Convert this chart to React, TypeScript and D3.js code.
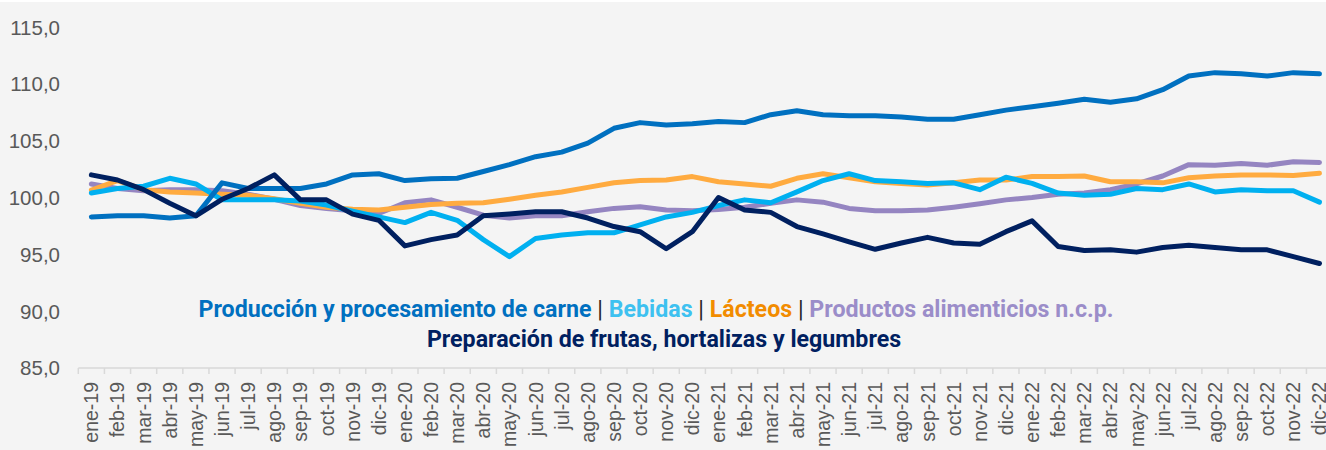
import { useEffect, useRef } from 'react';
import * as d3 from 'd3';

const months = ['ene', 'feb', 'mar', 'abr', 'may', 'jun', 'jul', 'ago', 'sep', 'oct', 'nov', 'dic'];
const years = ['19', '20', '21', '22'];
const labels = years.flatMap(y => months.map(m => `${m}-${y}`));

const yTicks = [85, 90, 95, 100, 105, 110, 115];

// Producción y procesamiento de carne
const carne = [
  98.3, 98.4, 98.4, 98.2, 98.4, 101.3, 100.8, 100.8, 100.8, 101.2, 102.0, 102.1,
  101.5, 101.65, 101.7, 102.3, 102.9, 103.6, 104.0, 104.8, 106.1, 106.6, 106.4, 106.5,
  106.7, 106.6, 107.3, 107.65, 107.3, 107.2, 107.2, 107.1, 106.9, 106.9, 107.3, 107.7,
  108.0, 108.3, 108.65, 108.4, 108.7, 109.5, 110.7, 111.0, 110.9, 110.7, 111.0, 110.9,
];

// Bebidas
const bebidas = [
  100.4, 100.8, 101.0, 101.7, 101.2, 99.8, 99.8, 99.8, 99.7, 99.35, 98.8, 98.3,
  97.8, 98.7, 98.0, 96.3, 94.8, 96.4, 96.7, 96.9, 96.9, 97.6, 98.3, 98.7,
  99.3, 99.8, 99.55, 100.5, 101.5, 102.1, 101.5, 101.4, 101.25, 101.3, 100.7, 101.8,
  101.25, 100.4, 100.2, 100.3, 100.8, 100.7, 101.2, 100.5, 100.7, 100.6, 100.6, 99.6,
];

// Lácteos
const lacteos = [
  100.67, 101.5, 100.7, 100.5, 100.4, 100.3, 100.2, 99.9, 99.5, 99.15, 98.97, 98.9,
  99.15, 99.4, 99.5, 99.55, 99.85, 100.2, 100.5, 100.9, 101.3, 101.5, 101.55, 101.85,
  101.4, 101.2, 101.0, 101.7, 102.1, 101.75, 101.4, 101.25, 101.1, 101.3, 101.55, 101.55,
  101.85, 101.85, 101.9, 101.4, 101.4, 101.3, 101.75, 101.9, 102.0, 102.0, 101.95, 102.15,
];

// Productos alimenticios n.c.p.
const ncp = [
  101.2, 100.8, 100.6, 100.7, 100.7, 100.6, 100.3, 99.85, 99.3, 99.05, 98.85, 98.6,
  99.55, 99.8, 99.15, 98.45, 98.2, 98.4, 98.4, 98.75, 99.05, 99.2, 98.9, 98.85,
  98.95, 99.15, 99.5, 99.8, 99.6, 99.05, 98.85, 98.85, 98.9, 99.15, 99.45, 99.8,
  100.0, 100.3, 100.4, 100.7, 101.2, 101.9, 102.9, 102.85, 103.0, 102.85, 103.15, 103.1,
];

// Preparación de frutas, hortalizas y legumbres
const frutas = [
  102.0, 101.55, 100.7, 99.5, 98.4, 99.85, 100.8, 102.0, 99.8, 99.8, 98.55, 98.0,
  95.75, 96.3, 96.7, 98.4, 98.55, 98.75, 98.75, 98.2, 97.45, 97.0, 95.5, 97.0,
  100.0, 98.9, 98.7, 97.45, 96.8, 96.1, 95.45, 96.0, 96.5, 96.0, 95.9, 97.0,
  97.95, 95.7, 95.35, 95.4, 95.2, 95.6, 95.8, 95.6, 95.4, 95.4, 94.8, 94.2,
];

// drawing order (last on top)
const series = [
  { key: 'ncp', values: ncp, color: '#9585C1' },
  { key: 'lacteos', values: lacteos, color: '#FFAB40' },
  { key: 'bebidas', values: bebidas, color: '#00B0F0' },
  { key: 'carne', values: carne, color: '#0070C0' },
  { key: 'frutas', values: frutas, color: '#002060' },
];

const WIDTH = 1326;
const HEIGHT = 450;

export default function App() {
  const svgRef = useRef<SVGSVGElement>(null);

  useEffect(() => {
    document.body.style.margin = '0';
    document.body.style.overflow = 'hidden';
  }, []);

  useEffect(() => {
    if (!svgRef.current) return;
    const svg = d3.select(svgRef.current);
    svg.selectAll('*').remove();

    const left = 78.3;
    const step = 26.13;
    const x = d3.scaleBand<string>()
      .domain(labels)
      .range([left, left + step * labels.length])
      .padding(0);
    const y = d3.scaleLinear().domain([85, 115]).range([368, 27.2]);

    svg.append('rect')
      .attr('x', 0).attr('y', 2)
      .attr('width', WIDTH).attr('height', HEIGHT - 2)
      .attr('fill', '#F4F4F4');

    // Y labels
    svg.append('g')
      .selectAll('text')
      .data(yTicks)
      .join('text')
      .attr('x', 60)
      .attr('y', d => y(d))
      .attr('dy', '0.36em')
      .attr('text-anchor', 'end')
      .style('font-family', '"Liberation Sans", Arial, sans-serif')
      .style('font-size', '20.5px')
      .style('fill', '#595959')
      .text(d => d.toFixed(1).replace('.', ','));

    // X axis
    const axisY = y(85);
    svg.append('line')
      .attr('x1', left).attr('x2', WIDTH)
      .attr('y1', axisY).attr('y2', axisY)
      .attr('stroke', '#D9D9D9').attr('stroke-width', 1.5);

    const boundaries = labels.map(l => x(l)!).concat([left + step * labels.length]);
    svg.append('g')
      .selectAll('line')
      .data(boundaries)
      .join('line')
      .attr('x1', d => d).attr('x2', d => d)
      .attr('y1', axisY).attr('y2', axisY + 6)
      .attr('stroke', '#D9D9D9').attr('stroke-width', 1.5);

    svg.append('g')
      .selectAll('text')
      .data(labels)
      .join('text')
      .attr('transform', d => `translate(${x(d)! + x.bandwidth() / 2 + 7},${axisY + 14}) rotate(-90)`)
      .attr('text-anchor', 'end')
      .style('font-family', '"Liberation Sans", Arial, sans-serif')
      .style('font-size', '19.5px')
      .style('fill', '#595959')
      .text(d => d);

    // Lines
    const line = d3.line<number>()
      .x((_, i) => x(labels[i])! + x.bandwidth() / 2)
      .y(d => y(d));

    svg.append('g')
      .selectAll('path')
      .data(series)
      .join('path')
      .attr('d', d => line(d.values))
      .attr('fill', 'none')
      .attr('stroke', d => d.color)
      .attr('stroke-width', 5)
      .attr('stroke-linejoin', 'round')
      .attr('stroke-linecap', 'round');

    // Legend
    const legend = svg.append('g')
      .style('font-family', 'Roboto, sans-serif')
      .style('font-weight', '700')
      .style('font-size', '23.2px');

    const line1 = legend.append('text')
      .attr('x', 656)
      .attr('y', 316.5)
      .attr('text-anchor', 'middle');
    const parts = [
      { t: 'Producción y procesamiento de carne', c: '#0070C0', w: '700' },
      { t: ' | ', c: '#262626', w: '400' },
      { t: 'Bebidas', c: '#3EC1F0', w: '700' },
      { t: ' | ', c: '#262626', w: '400' },
      { t: 'Lácteos', c: '#F28C00', w: '700' },
      { t: ' | ', c: '#262626', w: '400' },
      { t: 'Productos alimenticios n.c.p.', c: '#9B8DC9', w: '700' },
    ];
    parts.forEach(p => {
      line1.append('tspan').style('fill', p.c).style('font-weight', p.w).text(p.t);
    });

    legend.append('text')
      .attr('x', 664)
      .attr('y', 346.5)
      .attr('text-anchor', 'middle')
      .style('fill', '#002060')
      .text('Preparación de frutas, hortalizas y legumbres');
  }, []);

  return (
    <div>
      <svg ref={svgRef} width={WIDTH} height={HEIGHT} style={{ display: 'block', background: '#fff' }} />
    </div>
  );
}
